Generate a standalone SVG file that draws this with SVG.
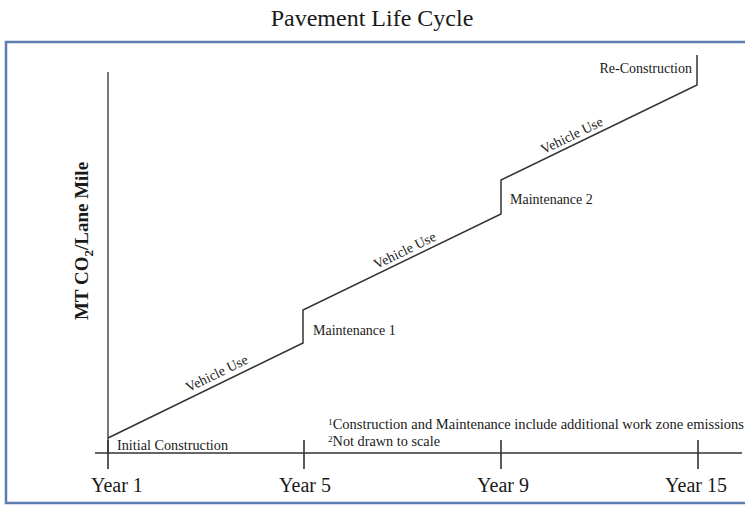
<svg xmlns="http://www.w3.org/2000/svg" width="745" height="505" viewBox="0 0 745 505">
<style>
  text { font-family: "Liberation Serif", "Times New Roman", serif; fill: #1a1a1a; }
  .title { font-size: 24px; }
  .axis { stroke: #333; stroke-width: 1.6; fill: none; }
  .yaxis { stroke: #777; stroke-width: 2; fill: none; }
  .curve { stroke: #333; stroke-width: 1.5; fill: none; stroke-linejoin: miter; }
  .ylab { font-size: 19px; font-weight: bold; }
  .year { font-size: 20px; }
  .lbl { font-size: 14px; }
  .note { font-size: 14px; }
</style>
<rect x="0" y="0" width="745" height="505" fill="#ffffff"/>
<text class="title" x="372" y="26" text-anchor="middle">Pavement Life Cycle</text>
<rect x="6" y="42" width="800" height="461" fill="none" stroke="#5b7db0" stroke-width="2.5"/>

<g id="axes">
  <line class="yaxis" x1="108" y1="72" x2="108" y2="453"/>
  <line class="axis" x1="95" y1="453" x2="742" y2="453"/>
  <line class="axis" x1="108" y1="440" x2="108" y2="469"/>
  <line class="axis" x1="304" y1="440" x2="304" y2="469"/>
  <line class="axis" x1="501" y1="440" x2="501" y2="469"/>
  <line class="axis" x1="698" y1="440" x2="698" y2="469"/>
  <text class="ylab" transform="translate(88,241) rotate(-90)" text-anchor="middle">MT CO<tspan font-size="13" dy="5">2</tspan><tspan dy="-5">/Lane Mile</tspan></text>
  <text class="year" x="91" y="492">Year 1</text>
  <text class="year" x="305" y="492" text-anchor="middle">Year 5</text>
  <text class="year" x="503" y="492" text-anchor="middle">Year 9</text>
  <text class="year" x="696" y="492" text-anchor="middle">Year 15</text>
</g>

<g id="connectors">
  <polyline class="curve" points="108,438 303,343 303,310 501,214 501,180 697,85 697,55"/>
</g>

<g id="initial-construction">
  <text class="lbl" x="117" y="450" textLength="111" lengthAdjust="spacingAndGlyphs">Initial Construction</text>
</g>
<g id="vehicle-use-1">
  <text class="lbl" transform="translate(221,382) rotate(-26)" y="-5" text-anchor="middle">Vehicle Use</text>
</g>
<g id="maintenance-1">
  <text class="lbl" x="313" y="335">Maintenance 1</text>
</g>
<g id="vehicle-use-2">
  <text class="lbl" transform="translate(409,259) rotate(-26)" y="-5" text-anchor="middle">Vehicle Use</text>
</g>
<g id="maintenance-2">
  <text class="lbl" x="510" y="204">Maintenance 2</text>
</g>
<g id="vehicle-use-3">
  <text class="lbl" transform="translate(576,144) rotate(-26)" y="-5" text-anchor="middle">Vehicle Use</text>
</g>
<g id="re-construction">
  <text class="lbl" x="692" y="73" text-anchor="end">Re-Construction</text>
</g>
<g id="notes">
  <text class="note" x="328" y="429" textLength="416" lengthAdjust="spacingAndGlyphs"><tspan font-size="9" dy="-4">1</tspan><tspan dy="4">Construction and Maintenance include additional work zone emissions</tspan></text>
  <text class="note" x="328" y="446" textLength="112" lengthAdjust="spacingAndGlyphs"><tspan font-size="9" dy="-4">2</tspan><tspan dy="4">Not drawn to scale</tspan></text>
</g>
</svg>
